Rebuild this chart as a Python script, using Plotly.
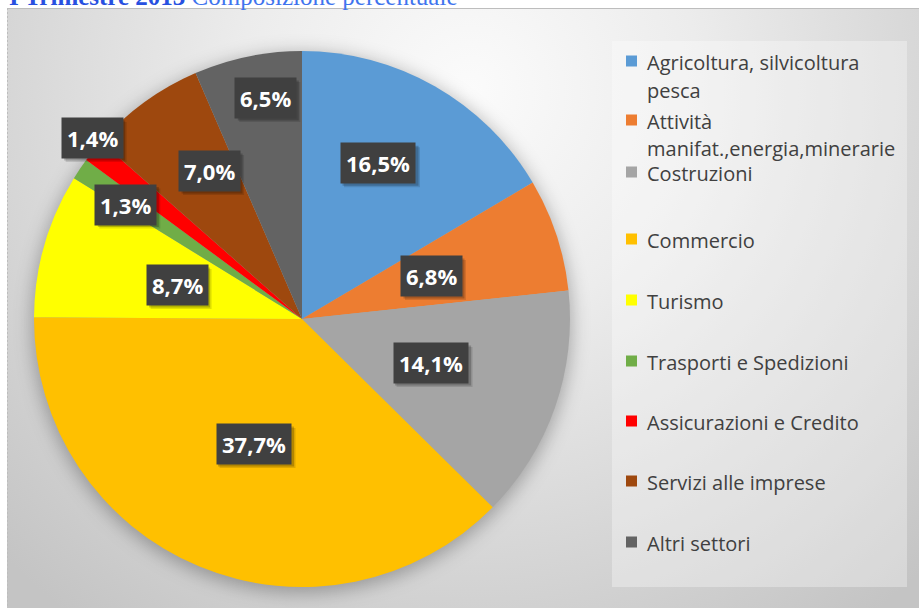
import base64
import math
import plotly.graph_objects as go

# ---------------- data ----------------
categories = [
    "Agricoltura, silvicoltura pesca",
    "Attività manifat.,energia,minerarie",
    "Costruzioni",
    "Commercio",
    "Turismo",
    "Trasporti e Spedizioni",
    "Assicurazioni e Credito",
    "Servizi alle imprese",
    "Altri settori",
]
legend_text_lines = [
    ["Agricoltura, silvicoltura", "pesca"],
    ["Attività", "manifat.,energia,minerarie"],
    ["Costruzioni"],
    ["Commercio"],
    ["Turismo"],
    ["Trasporti e Spedizioni"],
    ["Assicurazioni e Credito"],
    ["Servizi alle imprese"],
    ["Altri settori"],
]
values = [16.5, 6.8, 14.1, 37.7, 8.7, 1.3, 1.4, 7.0, 6.5]
title_bold = "I Trimestre 2013"
title_rest = "Composizione percentuale"

# ---------------- style / layout ----------------
colors = ["#5B9BD5", "#ED7D31", "#A5A5A5", "#FFC000", "#FFFF00",
          "#70AD47", "#FF0000", "#9E480E", "#636363"]
W, H = 919, 608
PIE_CX, PIE_CY, PIE_R = 302, 319, 268
label_radius = [0.647, 0.509, 0.507, 0.500, 0.483, 0.784, 1.034, 0.651, 0.836]
label_angle_shift = [-3.7, 0.0, -0.4, -1.3, -0.8, -1.0, 1.9, 4.0, 2.4]  # degrees
legend_line_y = [[61, 89], [120, 148], [172], [239], [300], [361], [421], [481], [542]]
LEG_SQ_X, LEG_TXT_X, SQ = 626, 645, 11


def px(x):
    return x / W


def py(y):
    return 1 - y / H


svg = f'''<svg xmlns="http://www.w3.org/2000/svg" width="{W}" height="{H}" viewBox="0 0 {W} {H}">
<defs>
<radialGradient id="g" gradientUnits="userSpaceOnUse" cx="470" cy="90" r="660">
<stop offset="0" stop-color="#fbfbfb"/>
<stop offset="0.35" stop-color="#ececec"/>
<stop offset="1" stop-color="#c4c4c4"/>
</radialGradient>
<filter id="b" x="-30%" y="-30%" width="160%" height="160%"><feGaussianBlur stdDeviation="9"/></filter>
</defs>
<rect width="{W}" height="{H}" fill="#ffffff"/>
<rect x="7" y="8" width="{W-7}" height="{H-8}" fill="url(#g)"/>
<circle cx="{PIE_CX}" cy="{PIE_CY+4}" r="{PIE_R+2}" fill="#000" fill-opacity="0.28" filter="url(#b)"/>
<rect x="612" y="41" width="295" height="546" fill="#ffffff" fill-opacity="0.32"/>
<line x1="7" y1="8.5" x2="{W}" y2="8.5" stroke="#bdbdbd"/>
<line x1="7.5" y1="8" x2="7.5" y2="{H}" stroke="#bdbdbd" stroke-dasharray="2,2"/>
</svg>'''
svg_uri = "data:image/svg+xml;base64," + base64.b64encode(svg.encode()).decode()

fig = go.Figure()
fig.add_trace(go.Pie(
    labels=categories,
    values=values,
    marker=dict(colors=colors, line=dict(width=0)),
    sort=False,
    direction="clockwise",
    rotation=0,
    textinfo="none",
    hoverinfo="label+percent",
    showlegend=False,
    domain=dict(x=[px(PIE_CX - PIE_R), px(PIE_CX + PIE_R)],
                y=[py(PIE_CY + PIE_R), py(PIE_CY - PIE_R)]),
))

annotations = []
shapes = []

# data labels in dark boxes
total = sum(values)
cum = 0.0
for v, f, dth in zip(values, label_radius, label_angle_shift):
    theta = 2 * math.pi * (cum + v / 2) / total + math.radians(dth)
    cum += v
    lx = PIE_CX + PIE_R * f * math.sin(theta)
    ly = PIE_CY - PIE_R * f * math.cos(theta)
    txt = f"{v:.1f}%".replace(".", ",")
    nd = sum(ch.isdigit() for ch in txt)
    bw, bh = 15 * nd + 31, 40
    # soft drop shadow
    for off, a in ((4, 0.12), (2.5, 0.2)):
        shapes.append(dict(type="rect", xref="paper", yref="paper", layer="above",
                           x0=px(lx - bw / 2 + off), x1=px(lx + bw / 2 + off),
                           y0=py(ly + bh / 2 + off), y1=py(ly - bh / 2 + off),
                           fillcolor=f"rgba(0,0,0,{a})", line=dict(width=0)))
    annotations.append(dict(text=f"<b>{txt}</b>", x=px(lx), y=py(ly),
                            xref="paper", yref="paper",
                            xanchor="center", yanchor="middle", showarrow=False,
                            borderpad=5, bgcolor="#404040",
                            font=dict(family="Open Sans", size=22, color="#ffffff")))

# legend (manual)
for lines, ys, c in zip(legend_text_lines, legend_line_y, colors):
    shapes.append(dict(type="rect", xref="paper", yref="paper",
                       x0=px(LEG_SQ_X), x1=px(LEG_SQ_X + SQ),
                       y0=py(ys[0] - SQ / 2), y1=py(ys[0] + SQ / 2),
                       fillcolor=c, line=dict(width=0)))
    for t, yy in zip(lines, ys):
        annotations.append(dict(text=t, x=px(LEG_TXT_X), y=py(yy + 1), xref="paper", yref="paper",
                                xanchor="left", yanchor="middle", showarrow=False,
                                font=dict(family="Open Sans", size=20, color="#404040")))

# title (cut off at top)
annotations.append(dict(
    text=(f'<b><span style="color:#2850E0">{title_bold}</span></b> '
          f'<span style="color:#3F74EE">{title_rest}</span>'),
    x=px(8), y=py(11), xref="paper", yref="paper", xanchor="left", yanchor="bottom",
    showarrow=False, borderpad=0,
    font=dict(family="Liberation Serif", size=25, color="#3F74EE")))

fig.update_layout(
    width=W, height=H,
    margin=dict(l=0, r=0, t=0, b=0),
    paper_bgcolor="#ffffff",
    plot_bgcolor="rgba(0,0,0,0)",
    images=[dict(source=svg_uri, xref="paper", yref="paper", x=0, y=1,
                 sizex=1, sizey=1, sizing="stretch", xanchor="left", yanchor="top",
                 layer="below")],
    annotations=annotations,
    shapes=shapes,
    xaxis=dict(visible=False), yaxis=dict(visible=False),
)

fig.write_html("out.html", config={"displayModeBar": False},
               post_script="document.body.style.margin='0';")
